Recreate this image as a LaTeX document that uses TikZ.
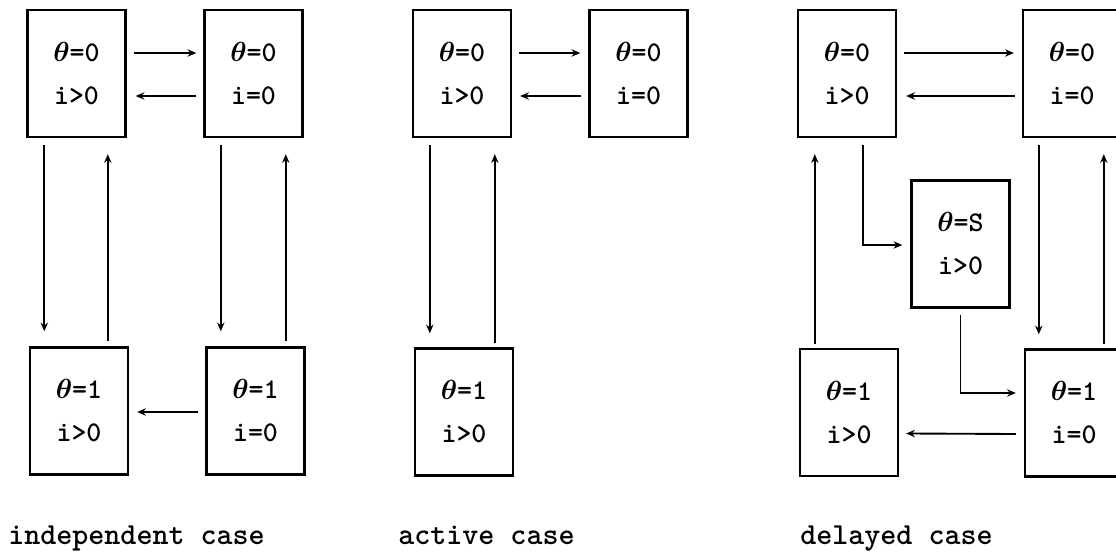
\documentclass[tikz,border=0pt]{standalone}
\usepackage{fontspec}
\usetikzlibrary{arrows.meta,calc}

\begin{document}
\begin{tikzpicture}[x=0.75pt,y=-0.75pt,
  statebox/.style={draw,line width=1.8pt,minimum width=73.5pt,minimum height=95.25pt,
    inner sep=0pt,align=center,
    font=\fontsize{21.4pt}{32.25pt}\selectfont\ttfamily\bfseries\boldmath},
  arrowline/.style={line width=1.4pt,-{Stealth[length=6.5pt,width=5.5pt]}},
  captext/.style={anchor=base west,inner sep=0pt,
    font=\fontsize{22.9pt}{26pt}\selectfont\ttfamily\bfseries}]

\useasboundingbox (0,0) rectangle (1116,559);
\clip (0,0) rectangle (1116,559);

% ---------------- independent case ----------------
\node[statebox] (A) at (76.5,73.5) {$\theta$=0\\i>0};
\node[statebox] (B) at (253.5,73.5) {$\theta$=0\\i=0};
\node[statebox] (C) at (79,411) {$\theta$=1\\i>0};
\node[statebox] (D) at (255.5,411) {$\theta$=1\\i=0};

\draw[arrowline] ($(A.east)+(7,-20.5)$) -- ($(B.west)+(-7,-20.5)$);
\draw[arrowline] ($(B.west)+(-7,22.5)$) -- ($(A.east)+(9,22.5)$);
\draw[arrowline] ($(A.south west)+(18,7)$) -- ($(A.south west |- C.north)+(18,-15)$);
\draw[arrowline] ($(C.north west)+(79,-5)$) -- ($(C.north west |- A.south)+(79,16)$);
\draw[arrowline] ($(B.south west)+(17.5,7)$) -- ($(B.south west |- D.north)+(17.5,-15)$);
\draw[arrowline] ($(D.north west)+(80.5,-5)$) -- ($(D.north west |- B.south)+(80.5,16)$);
\draw[arrowline] ($(D.west)+(-7,1)$) -- ($(C.east)+(8,1)$);

% ---------------- active case ----------------
\node[statebox] (E) at (462,73.5) {$\theta$=0\\i>0};
\node[statebox] (F) at (638.5,73.5) {$\theta$=0\\i=0};
\node[statebox] (G) at (464,412) {$\theta$=1\\i>0};

\draw[arrowline] ($(E.east)+(7,-20.5)$) -- ($(F.west)+(-8,-20.5)$);
\draw[arrowline] ($(F.west)+(-7,22.5)$) -- ($(E.east)+(8,22.5)$);
\draw[arrowline] ($(E.south west)+(18,7)$) -- ($(E.south west |- G.north)+(18,-14)$);
\draw[arrowline] ($(G.north west)+(81,-4)$) -- ($(G.north west |- E.south)+(81,16)$);

% ---------------- delayed case ----------------
\node[statebox] (H) at (847,73.5) {$\theta$=0\\i>0};
\node[statebox] (I) at (1072,73.5) {$\theta$=0\\i=0};
\node[statebox] (S) at (960.5,244) {$\theta$=S\\i>0};
\node[statebox] (J) at (849,412.5) {$\theta$=1\\i>0};
\node[statebox] (K) at (1074,413) {$\theta$=1\\i=0};

\draw[arrowline] ($(H.east)+(7,-20.5)$) -- ($(I.west)+(-8,-20.5)$);
\draw[arrowline] ($(I.west)+(-7,22.5)$) -- ($(H.east)+(9,22.5)$);
\draw[arrowline] ($(J.north west)+(16,-4)$) -- ($(J.north west |- H.south)+(16,16)$);
\draw[arrowline] ($(H.south west)+(66,7)$) |- ($(S.west)+(-8,1)$);
\draw[arrowline] ($(S.south)+(0,6)$) |- ($(K.west)+(-8,-20)$);
\draw[arrowline] ($(I.south west)+(17,7)$) -- ($(I.south west |- K.north)+(17,-14)$);
\draw[arrowline] ($(K.north west)+(80,-4)$) -- ($(K.north west |- I.south)+(80,16)$);
\draw[arrowline] ($(K.west)+(-8,21)$) -- ($(J.east)+(7,21)$);

% ---------------- captions ----------------
\node[captext] (capind) at (8,544) {independent case};
\node[captext] (capact) at (398,544) {active case};
\node[captext] (capdel) at (800,544) {delayed case};

\end{tikzpicture}
\end{document}
